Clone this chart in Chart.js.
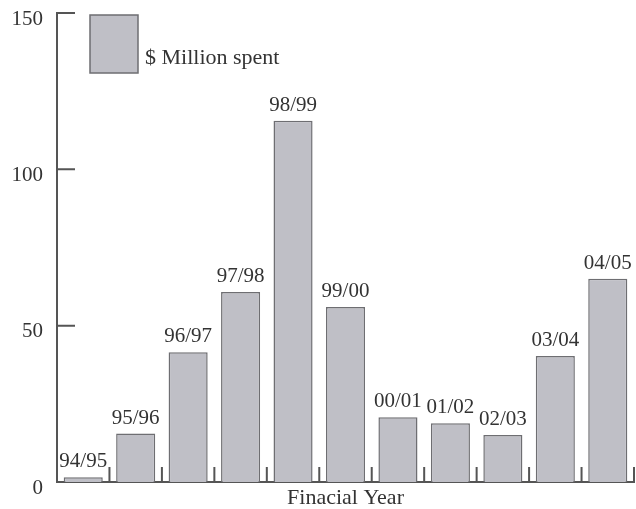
<!DOCTYPE html>
<html>
<head>
<meta charset="utf-8">
<script src="https://cdn.jsdelivr.net/npm/chart.js@4.4.1/dist/chart.umd.min.js"></script>
<style>
  html, body { margin: 0; padding: 0; background: #fff; }
  #wrap { width: 636px; height: 509px; }
</style>
</head>
<body>
<div id="wrap"><canvas id="spend-chart" width="636" height="509"></canvas></div>
<script>
const years = ['94/95', '95/96', '96/97', '97/98', '98/99', '99/00', '00/01', '01/02', '02/03', '03/04', '04/05'];
const millionSpent = [1.5, 15.5, 41.5, 60.8, 115.5, 56, 20.7, 18.8, 15, 40.3, 65];
const yTicks = [0, 50, 100, 150];

const serif = "'Liberation Serif', 'DejaVu Serif', serif";
const axisColor = '#555555';
const textColor = '#333333';

// year label above each bar
const barLabels = {
  id: 'barLabels',
  afterDatasetsDraw(chart) {
    const ctx = chart.ctx;
    const meta = chart.getDatasetMeta(0);
    ctx.save();
    ctx.font = '21px ' + serif;
    ctx.fillStyle = textColor;
    ctx.textAlign = 'center';
    ctx.textBaseline = 'alphabetic';
    meta.data.forEach((bar, i) => {
      ctx.fillText(chart.data.labels[i], bar.x, bar.y - 10);
    });
    ctx.restore();
  }
};

// short tick marks pointing into the plot
const innerTicks = {
  id: 'innerTicks',
  afterDraw(chart) {
    const ctx = chart.ctx;
    const x = chart.scales.x;
    const y = chart.scales.y;
    const area = chart.chartArea;
    ctx.save();
    ctx.strokeStyle = axisColor;
    ctx.lineWidth = 2;
    ctx.beginPath();
    y.ticks.forEach(t => {
      if (t.value === 0) return;
      const py = y.getPixelForValue(t.value);
      ctx.moveTo(area.left, py);
      ctx.lineTo(area.left + 18, py);
    });
    const n = chart.data.labels.length;
    const half = (x.getPixelForValue(1) - x.getPixelForValue(0)) / 2;
    for (let i = 0; i < n; i++) {
      const px = x.getPixelForValue(i) + half;
      ctx.moveTo(px, area.bottom);
      ctx.lineTo(px, area.bottom - 15);
    }
    ctx.stroke();
    ctx.restore();
  }
};

// legend box sitting inside the plot, top left
const insideLegend = {
  id: 'insideLegend',
  afterDraw(chart) {
    const ctx = chart.ctx;
    const ds = chart.data.datasets[0];
    const area = chart.chartArea;
    const bx = area.left + 33, by = area.top + 2;
    ctx.save();
    ctx.fillStyle = ds.backgroundColor;
    ctx.strokeStyle = ds.borderColor;
    ctx.lineWidth = 1.5;
    ctx.fillRect(bx, by, 48, 58);
    ctx.strokeRect(bx, by, 48, 58);
    ctx.font = '22px ' + serif;
    ctx.fillStyle = textColor;
    ctx.textAlign = 'left';
    ctx.textBaseline = 'alphabetic';
    ctx.fillText(ds.label, bx + 55, by + 49);
    ctx.restore();
  }
};

new Chart(document.getElementById('spend-chart'), {
  type: 'bar',
  data: {
    labels: years,
    datasets: [{
      label: '$ Million spent',
      data: millionSpent,
      backgroundColor: '#bfbfc6',
      borderColor: '#6e6e72',
      borderWidth: 1.5,
      barPercentage: 0.745,
      categoryPercentage: 1
    }]
  },
  options: {
    responsive: false,
    animation: false,
    layout: { padding: { top: 0, right: 2, left: 0, bottom: 0 } },
    plugins: {
      legend: { display: false },
      tooltip: { enabled: false }
    },
    scales: {
      x: {
        grid: { display: false, drawTicks: false },
        border: { display: true, color: axisColor, width: 2 },
        ticks: { display: false },
        title: {
          display: true,
          text: 'Finacial Year',
          color: textColor,
          font: { family: serif, size: 22 },
          padding: { top: 0, bottom: -2 }
        },
        afterFit(scale) { scale.height = 27; }
      },
      y: {
        min: 0,
        max: 150,
        afterBuildTicks(scale) { scale.ticks = yTicks.map(v => ({ value: v })); },
        grid: { display: false, drawTicks: false },
        border: { display: true, color: axisColor, width: 2 },
        ticks: {
          color: textColor,
          font: { family: serif, size: 21 },
          padding: 14,
          labelOffset: 6
        },
        afterFit(scale) {
          scale.width = 57;
          scale.paddingTop = 13;
          scale.paddingBottom = 0;
        }
      }
    }
  },
  plugins: [barLabels, innerTicks, insideLegend]
});
</script>
</body>
</html>
